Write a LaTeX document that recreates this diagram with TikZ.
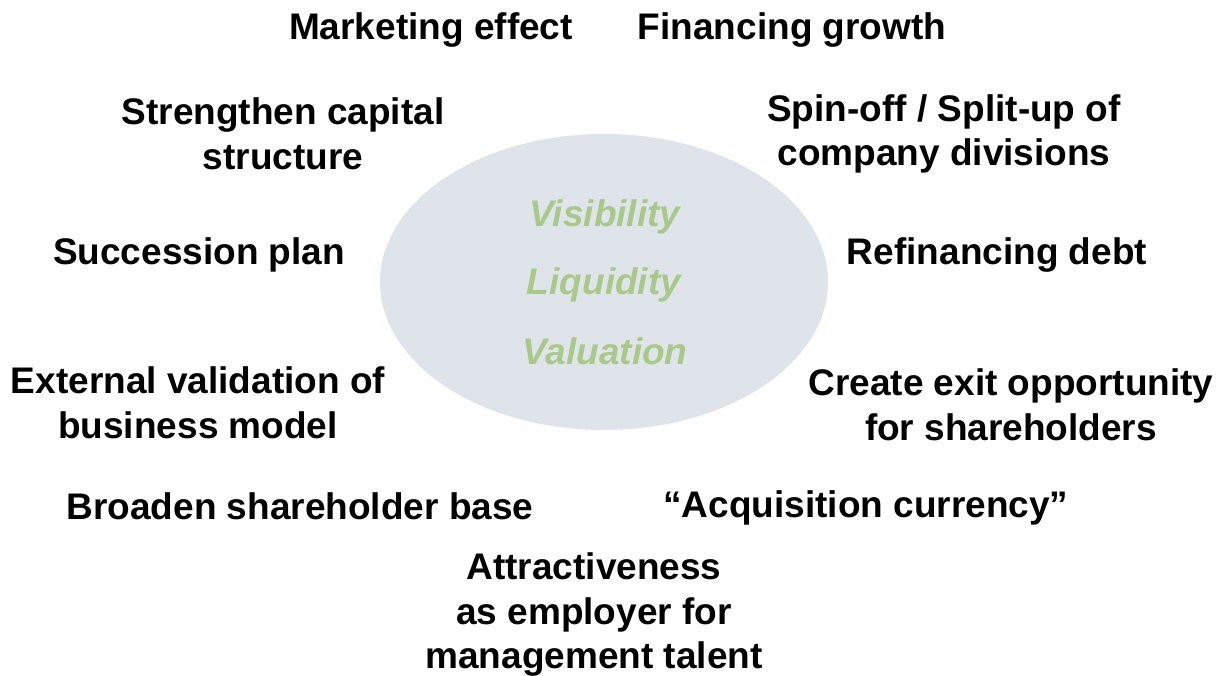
\documentclass[tikz,border=0pt]{standalone}
\usepackage{fontspec}
\setmainfont{Liberation Sans}
\definecolor{ellfill}{HTML}{DFE4EB}
\definecolor{greentext}{HTML}{A9C98A}
\begin{document}
\begin{tikzpicture}[x=1pt,y=-1pt,
  lbl/.style={font=\fontsize{37}{44.5}\selectfont\bfseries, align=center, inner sep=0pt, text=black},
  core/.style={font=\fontsize{37}{44.5}\selectfont\bfseries\itshape, inner sep=0pt, text=greentext}]
\useasboundingbox (0,0) rectangle (1217,676);
\fill[ellfill] (604,282) ellipse [x radius=224, y radius=148];
\node[core] (vis) at (605,217) {Visibility};
\node[core] (liq) at (604,285) {Liquidity};
\node[core] (val) at (605,351) {Valuation};
\node[lbl] (mkt) at (431,30) {Marketing effect};
\node[lbl] (fin) at (792,30) {Financing growth};
\node[lbl] (cap) at (283,134) {Strengthen capital\\structure};
\node[lbl] (spin) at (944,134) {Spin-off / Split-up of\\company divisions};
\node[lbl] (succ) at (199,255) {Succession plan};
\node[lbl] (refi) at (997,255) {Refinancing debt};
\node[lbl] (ext) at (198,403) {External validation of\\business model};
\node[lbl] (exit) at (1011,405) {Create exit opportunity\\for shareholders};
\node[lbl] (broad) at (300,506) {Broaden shareholder base};
\node[lbl] (acq) at (866,508) {“Acquisition currency”};
\node[lbl] (attr) at (594,615) {Attractiveness\\as employer for\\management talent};
\end{tikzpicture}
\end{document}
